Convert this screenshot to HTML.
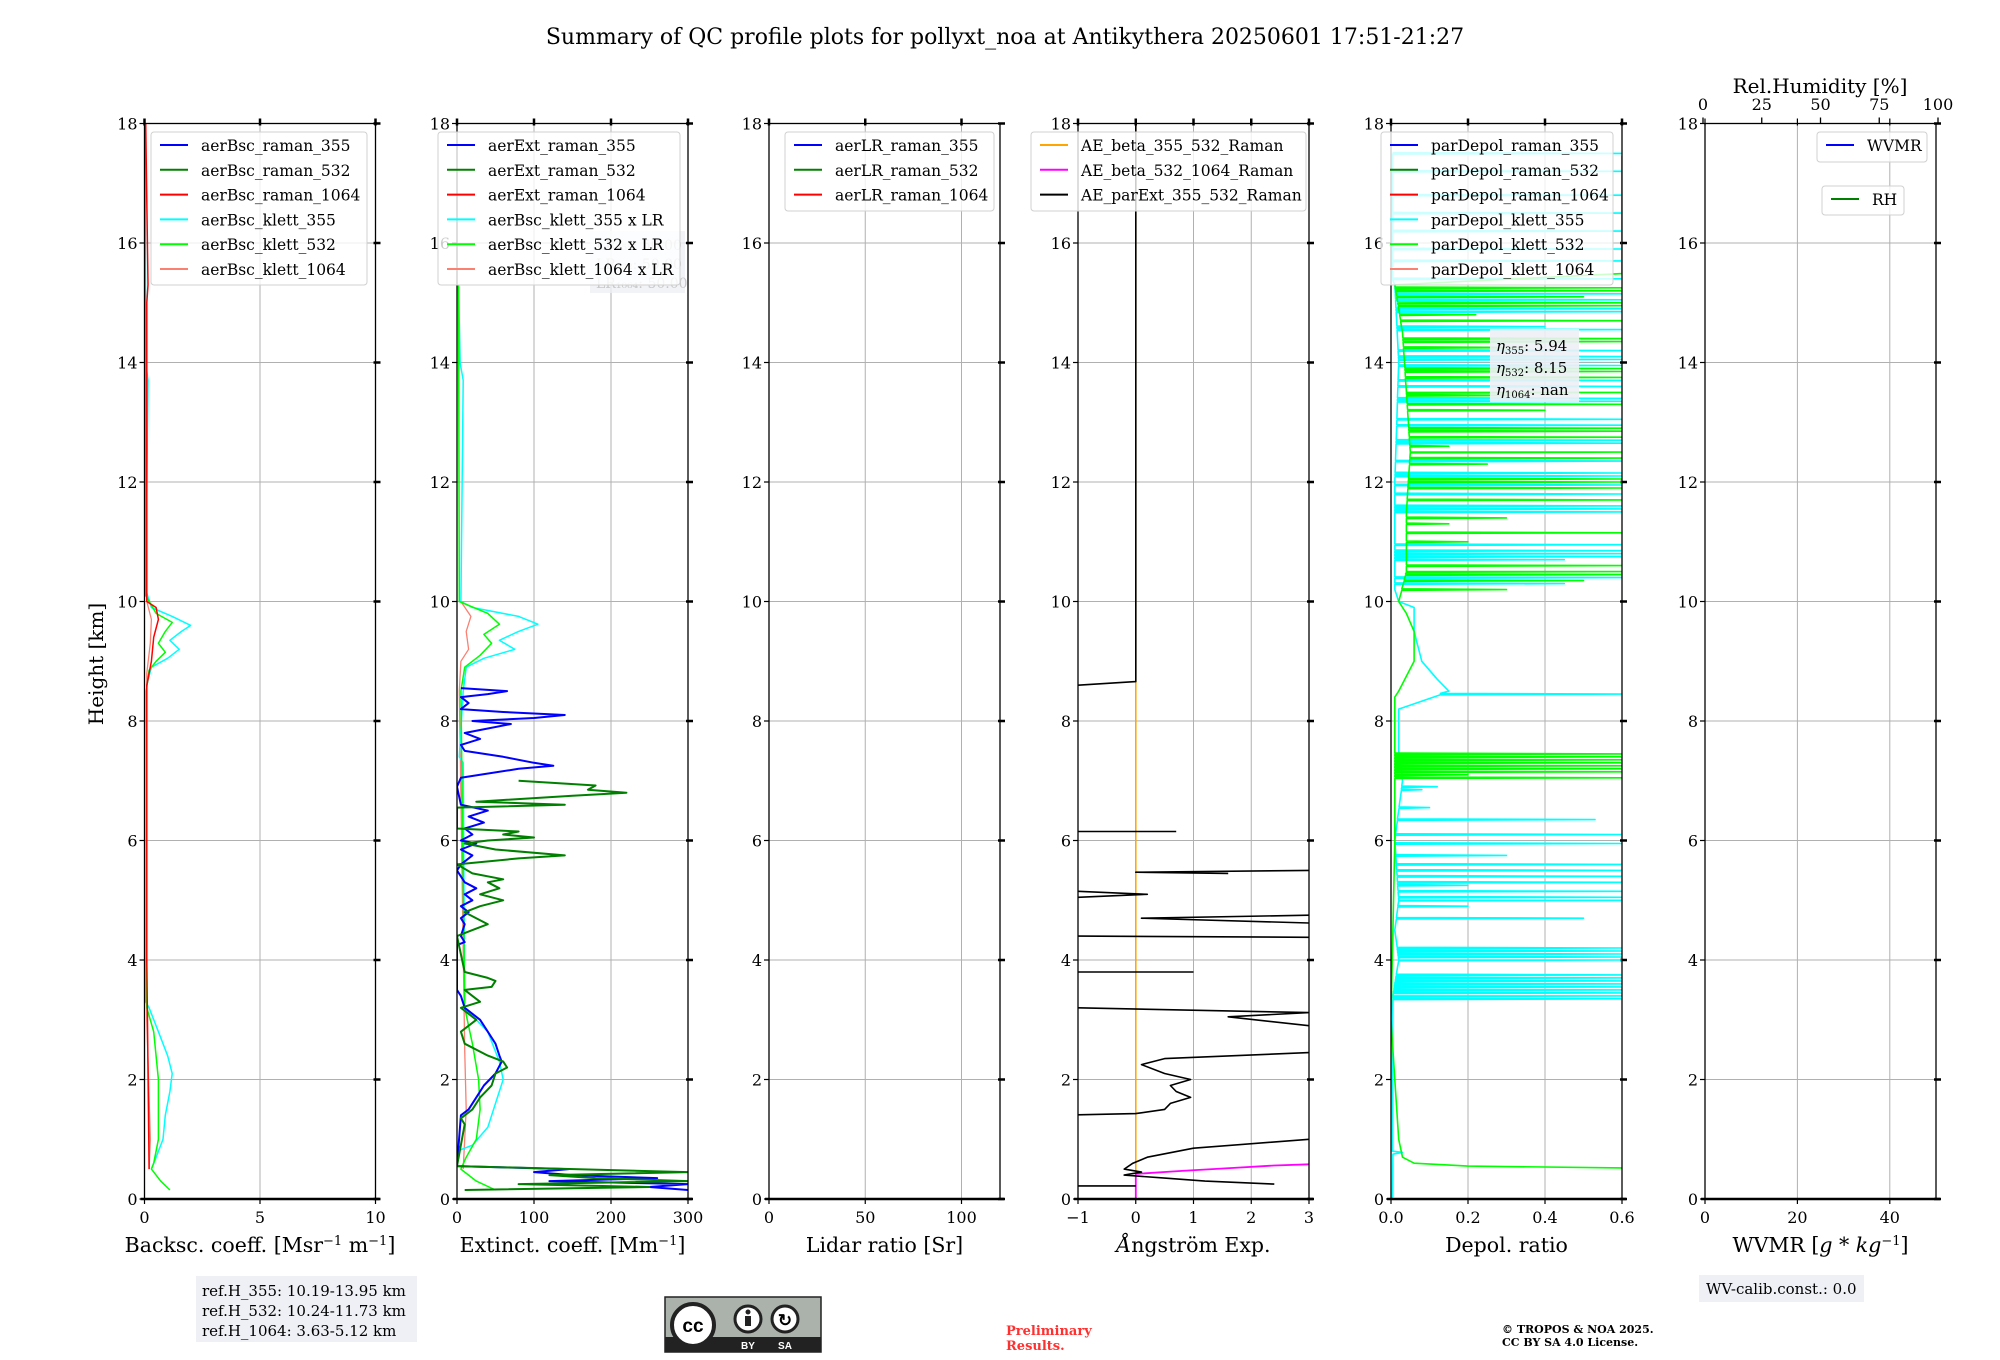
<!DOCTYPE html>
<html><head><meta charset="utf-8">
<style>
html,body{margin:0;padding:0;background:#fff;}
svg{display:block;font-family:"DejaVu Serif","Liberation Serif",serif;}
</style></head>
<body>
<svg id="fig" width="2000" height="1360" viewBox="0 0 2000 1360" xmlns="http://www.w3.org/2000/svg">
<text x="1005" y="44" font-size="22" text-anchor="middle">Summary of QC profile plots for pollyxt_noa at Antikythera 20250601 17:51-21:27</text>
<text transform="translate(103,664) rotate(-90)" font-size="20" text-anchor="middle">Height [km]</text>
<g id="plots"></g>
<rect x="196" y="1276" width="221" height="66" fill="#eef0f5"/>
<text x="202" y="1296" font-size="15">ref.H_355: 10.19-13.95 km</text>
<text x="202" y="1316" font-size="15">ref.H_532: 10.24-11.73 km</text>
<text x="202" y="1336" font-size="15">ref.H_1064: 3.63-5.12 km</text>
<g>
<rect x="665" y="1297" width="156" height="55" fill="#aab2ab" stroke="#222" stroke-width="1.5"/>
<rect x="665" y="1337" width="156" height="15" fill="#222"/>
<circle cx="693" cy="1325" r="21" fill="#fff" stroke="#222" stroke-width="4"/>
<text x="693" y="1332" font-size="19" font-weight="bold" text-anchor="middle" font-family="Liberation Sans,sans-serif">cc</text>
<circle cx="748" cy="1319" r="13" fill="#fff" stroke="#222" stroke-width="3"/>
<circle cx="748" cy="1312" r="2.5" fill="#222"/><rect x="745" y="1316" width="6" height="10" fill="#222"/>
<circle cx="785" cy="1319" r="13" fill="#fff" stroke="#222" stroke-width="3"/>
<text x="785" y="1326" font-size="17" font-weight="bold" text-anchor="middle" font-family="Liberation Sans,sans-serif">↻</text>
<text x="748" y="1349" font-size="10" fill="#fff" text-anchor="middle" font-family="Liberation Sans,sans-serif" font-weight="bold">BY</text>
<text x="785" y="1349" font-size="10" fill="#fff" text-anchor="middle" font-family="Liberation Sans,sans-serif" font-weight="bold">SA</text>
</g>
<text x="1006" y="1335" font-size="13" font-weight="bold" fill="#ff3030">Preliminary</text>
<text x="1006" y="1350" font-size="13" font-weight="bold" fill="#ff3030">Results.</text>
<text x="1502" y="1333" font-size="11" font-weight="bold">© TROPOS &amp; NOA 2025.</text>
<text x="1502" y="1346" font-size="11" font-weight="bold">CC BY SA 4.0 License.</text>
<rect x="1699" y="1275" width="165" height="27" fill="#eef0f5"/>
<text x="1706" y="1294" font-size="15">WV-calib.const.: 0.0</text>
<text x="1820" y="93" font-size="20" text-anchor="middle">Rel.Humidity [%]</text>
</svg>
<script>
// ---------- data ----------
const yTicks = [0,2,4,6,8,10,12,14,16,18];
// Panel 1: backscatter
const bscKlett355H = [18,14,13.7,10.2,9.9,9.75,9.6,9.5,9.35,9.2,9.05,8.9,8.6,3.3,3.2,2.8,2.4,2.1,1.8,1.4,1.0,0.7,0.5];
const bscKlett355V = [0.02,0.05,0.15,0.05,0.3,1.2,2.0,1.6,1.1,1.5,1.0,0.3,0.1,0.05,0.2,0.6,1.0,1.2,1.1,0.9,0.8,0.5,0.3];
const bscKlett532H = [18,10.1,9.8,9.65,9.5,9.3,9.15,9.0,8.85,8.5,3.2,2.8,2.0,1.0,0.6,0.5,0.3,0.15];
const bscKlett532V = [0.02,0.05,0.5,1.2,0.9,0.6,0.9,0.5,0.2,0.08,0.1,0.4,0.6,0.6,0.4,0.3,0.7,1.1];
const bscRaman1064H = [18,15.3,15.0,10.0,9.9,9.7,9.4,9.0,8.6,4.0,0.5];
const bscRaman1064V = [0.05,0.15,0.1,0.1,0.5,0.6,0.4,0.3,0.1,0.1,0.2];
const bscKlett1064H = [10.0,9.7,9.3,8.8,3.0,1.0,0.5];
const bscKlett1064V = [0.1,0.3,0.25,0.1,0.1,0.25,0.2];
// Panel 2: extinction
const extKlett355H = [15.3,14,13.7,10.0,9.9,9.75,9.62,9.5,9.35,9.2,9.05,8.9,8.5,7.4,7.3,3.2,2.8,2.3,2.0,1.6,1.2,0.9,0.8];
const extKlett355V = [2,4,8,5,20,80,105,80,55,75,35,12,8,3,8,10,40,55,60,50,40,20,0];
const extKlett532H = [15.3,10.0,9.8,9.62,9.45,9.3,9.1,8.9,8.5,3.2,2.6,2.0,1.5,1.0,0.7,0.5,0.3,0.15];
const extKlett532V = [2,3,40,55,35,45,30,10,5,10,20,28,30,25,12,5,25,50];
const extKlett1064H = [10.0,9.75,9.5,9.2,9.0,8.5,2.5,1.5,0.5];
const extKlett1064V = [5,18,12,15,5,3,10,12,8];
const extRaman355H = [8.55,8.5,8.45,8.4,8.3,8.2,8.15,8.1,8.05,8.0,7.95,7.85,7.8,7.7,7.6,7.5,7.4,7.3,7.25,7.2,7.1,7.05,6.9,6.6,6.5,6.4,6.3,6.2,6.1,6.0,5.95,5.85,5.75,5.6,5.5,5.3,5.2,5.1,5.0,4.9,4.8,4.7,4.6,4.4,4.3,4.25,3.5,3.4,3.2,3.0,2.8,2.6,2.4,2.3,2.1,1.9,1.7,1.5,1.4,0.55,0.5,0.45,0.4,0.35,0.3,0.25,0.2,0.15];
const extRaman355V = [5,65,40,5,15,5,60,140,100,20,70,30,10,30,5,10,60,100,125,80,30,5,0,5,40,15,35,10,20,5,25,5,20,5,0,10,25,10,20,5,15,5,10,5,10,0,0,5,10,30,40,50,55,58,50,35,25,15,5,0,145,100,150,260,120,300,250,300];
const extRaman532H = [7.0,6.92,6.85,6.8,6.75,6.65,6.6,6.55,6.2,6.15,6.1,6.05,6.0,5.95,5.85,5.75,5.7,5.6,5.45,5.35,5.3,5.2,5.1,5.0,4.9,4.8,4.6,4.5,4.4,3.8,3.7,3.65,3.55,3.5,3.4,3.3,3.2,3.0,2.8,2.6,2.4,2.3,2.2,2.1,1.9,1.7,1.5,1.35,1.25,0.55,0.45,0.4,0.35,0.3,0.25,0.2,0.15];
const extRaman532V = [80,180,170,220,150,25,140,0,0,80,60,100,40,10,50,140,80,0,20,60,40,55,30,60,30,10,40,20,0,10,40,50,45,10,20,30,5,25,5,10,40,60,65,50,45,30,20,5,10,0,300,120,180,300,80,250,10];
// Panel 4: Angstrom (null = gap)
const aeParExtH = [18,8.66,8.6,null,6.15,6.15,null,5.5,5.47,5.45,null,5.15,5.1,5.05,null,4.75,4.7,4.62,null,4.4,4.38,null,3.8,3.8,null,3.2,3.12,3.05,2.9,null,2.45,2.35,2.25,2.1,2.0,1.9,1.8,1.7,1.6,1.5,1.43,1.41,null,1.0,0.85,0.7,0.6,0.5,0.45,0.4,0.35,0.3,0.25,null,0.22,0.22];
const aeParExtV = [0,0,-1,null,-1,0.7,null,3,0,1.6,null,-1,0.2,-1,null,3,0.1,3,null,-1,3,null,-1,1,null,-1,3,1.6,3,null,3,0.5,0.1,0.5,0.95,0.6,0.7,0.95,0.6,0.5,0,-1,null,3,1.0,0.2,-0.05,-0.2,0.1,-0.2,0.5,1.2,2.4,null,-1,0];
const aeBeta355H = [18,0.42];
const aeBeta355V = [0,0];
const aeBeta532H = [0,0.42,0.47,0.52,0.56,0.58];
const aeBeta532V = [0,0,0.8,1.7,2.4,3];
// Panel 5: depol base profiles and spikes
const dpKlett532H = [15.3,14.5,13.5,12.5,11.5,10.5,10.0,9.8,9.5,9.0,8.5,8.4,8.0,7.0,6.5,6.0,3.0,2.0,1.0,0.7,0.6,0.55,0.52];
const dpKlett532V = [0.01,0.03,0.04,0.05,0.04,0.04,0.02,0.04,0.06,0.06,0.02,0.01,0.01,0.01,0.01,0.01,0.0,0.01,0.02,0.03,0.06,0.2,0.6];
const dpKlett532SpikeH = [17.45,17.0,16.9,16.6,16.4,16.0,15.8,15.5,15.25,15.2,15.1,15.0,14.95,14.8,14.7,14.4,14.35,14.25,13.9,13.85,13.75,13.5,13.45,13.3,13.2,12.9,12.85,12.75,12.6,12.5,12.4,12.3,12.05,12.0,11.9,11.7,11.4,11.3,11.15,11.0,10.6,10.5,10.45,10.35,10.2,7.45,7.4,7.35,7.3,7.25,7.2,7.15,7.1,7.05];
const dpKlett532SpikeV = [0.6,0.6,0.6,0.6,0.6,0.6,0.6,0.6,0.6,0.6,0.5,0.6,0.6,0.22,0.6,0.6,0.6,0.35,0.6,0.6,0.6,0.6,0.35,0.6,0.4,0.6,0.6,0.6,0.15,0.6,0.6,0.25,0.6,0.6,0.6,0.6,0.3,0.15,0.6,0.2,0.6,0.6,0.6,0.5,0.3,0.6,0.6,0.6,0.6,0.6,0.6,0.6,0.2,0.6];
const dpKlett355H = [15.3,14.0,12.0,10.2,10.0,9.9,9.5,9.0,8.7,8.5,8.2,7.5,7.0,6.5,6.0,5.0,4.5,4.0,3.4,3.0,2.0,0.8,0.78,0.75,0.0];
const dpKlett355V = [0.01,0.02,0.01,0.01,0.02,0.06,0.06,0.08,0.12,0.15,0.02,0.02,0.03,0.02,0.01,0.02,0.01,0.02,0.005,0.004,0.004,0.004,0.03,0.005,0.004];
const dpKlett355SpikeH = [17.5,17.2,16.8,16.5,16.2,15.9,15.7,15.4,15.15,15.05,14.9,14.85,14.6,14.55,14.2,14.1,14.05,13.95,13.7,13.6,13.4,13.35,13.05,12.95,12.7,12.65,12.35,12.15,12.1,11.95,11.8,11.6,11.55,11.5,10.95,10.85,10.8,10.75,10.7,10.4,10.3,8.45,7.1,6.9,6.85,6.55,6.35,6.1,5.95,5.75,5.6,5.5,5.4,5.3,5.25,5.15,5.05,5.0,4.9,4.7,4.2,4.15,4.1,4.05,4.0,3.75,3.7,3.65,3.6,3.55,3.5,3.45,3.4,3.35];
const dpKlett355SpikeV = [0.6,0.6,0.6,0.6,0.6,0.6,0.6,0.6,0.6,0.6,0.6,0.6,0.4,0.6,0.6,0.6,0.6,0.6,0.6,0.6,0.6,0.6,0.6,0.6,0.6,0.6,0.6,0.6,0.6,0.6,0.6,0.6,0.6,0.6,0.6,0.6,0.6,0.6,0.45,0.6,0.45,0.6,0.12,0.12,0.08,0.1,0.53,0.6,0.6,0.3,0.6,0.6,0.6,0.6,0.2,0.6,0.6,0.6,0.2,0.5,0.6,0.6,0.6,0.6,0.6,0.6,0.6,0.6,0.6,0.6,0.6,0.6,0.6,0.6];

// ---------- layout ----------
const NS = "http://www.w3.org/2000/svg";
const root = document.getElementById('plots');
const TOP = 123.5, BOT = 1199, PW = 231;
const lefts = [144.5, 457, 769, 1078, 1391, 1705];
function yS(h){ return BOT - (h/18)*(BOT-TOP); }
function mk(tag, attrs, parent){ const e=document.createElementNS(NS,tag); for(const k in attrs) e.setAttribute(k,attrs[k]); (parent||root).appendChild(e); return e; }
function xScaleFn(i, d0, d1){ return v => lefts[i] + (v-d0)/(d1-d0)*PW; }

const panels = [
 {d:[0,10], ticks:[0,5,10], labels:['0','5','10'], title:'Backsc. coeff. [Msr<tspan dy="-7" font-size="13">−1</tspan><tspan dy="7"> m</tspan><tspan dy="-7" font-size="13">−1</tspan><tspan dy="7">]</tspan>', name:'backscatter'},
 {d:[0,300], ticks:[0,100,200,300], labels:['0','100','200','300'], title:'Extinct. coeff. [Mm<tspan dy="-7" font-size="13">−1</tspan><tspan dy="7">]</tspan>', name:'extinction'},
 {d:[0,120], ticks:[0,50,100], labels:['0','50','100'], title:'Lidar ratio [Sr]', name:'lidar-ratio'},
 {d:[-1,3], ticks:[-1,0,1,2,3], labels:['−1','0','1','2','3'], title:'<tspan font-style="italic">Å</tspan>ngström Exp.', name:'angstrom'},
 {d:[0,0.6], ticks:[0,0.2,0.4,0.6], labels:['0.0','0.2','0.4','0.6'], title:'Depol. ratio', name:'depol'},
 {d:[0,50], ticks:[0,20,40], labels:['0','20','40'], title:'WVMR [<tspan font-style="italic">g</tspan> * <tspan font-style="italic">kg</tspan><tspan dy="-7" font-size="13">−1</tspan><tspan dy="7">]</tspan>', name:'wvmr'}
];
const xs = panels.map((p,i)=>xScaleFn(i,p.d[0],p.d[1]));

function line(i, H, V, color, w, name, op){
  const x = xs[i]; let d=''; let pen=false;
  for(let k=0;k<H.length;k++){
    if(H[k]===null||V[k]===null){pen=false;continue;}
    d += (pen?'L':'M') + x(V[k]).toFixed(1)+','+yS(H[k]).toFixed(1)+' '; pen=true;
  }
  const e = mk('path',{d:d,fill:'none',stroke:color,'stroke-width':w||1.5,'stroke-linejoin':'round','clip-path':'url(#clip'+i+')'});
  if(op) e.setAttribute('opacity',op);
  
  
  return e;
}
function withSpikes(H,V,SH,SV){
  const pts=[];
  for(let k=0;k<H.length;k++) pts.push([H[k],V[k]]);
  function baseAt(h){ for(let k=0;k<H.length-1;k++){ if(h<=H[k]&&h>=H[k+1]){const t=(H[k]-h)/(H[k]-H[k+1]); return V[k]+(V[k+1]-V[k])*t;} } return V[V.length-1]; }
  for(let k=0;k<SH.length;k++){ const b=baseAt(SH[k]); pts.push([SH[k]+0.012,b]); pts.push([SH[k],SV[k]]); pts.push([SH[k]-0.012,b]); }
  pts.sort((a,b)=>b[0]-a[0]);
  return [pts.map(p=>p[0]), pts.map(p=>p[1])];
}

const defs = mk('defs',{});
panels.forEach((p,i)=>{
  const cp = mk('clipPath',{id:'clip'+i},defs);
  mk('rect',{x:lefts[i],y:TOP,width:PW,height:BOT-TOP},cp);
});

panels.forEach((p,i)=>{
  const g = mk('g',{});
  
  
  const L=lefts[i], R=L+PW;
  yTicks.forEach(t=>{ if(t>0&&t<18){ const gl=mk('line',{x1:L,x2:R,y1:yS(t),y2:yS(t),stroke:'#b0b0b0','stroke-width':1},g);   }});
  p.ticks.forEach(t=>{ const xv=xs[i](t); if(xv>L+1&&xv<R-1){ const gl=mk('line',{x1:xv,x2:xv,y1:TOP,y2:BOT,stroke:'#b0b0b0','stroke-width':1},g);   }});
  yTicks.forEach(t=>{
    const y=yS(t);
    mk('line',{x1:L-5,x2:L,y1:y,y2:y,stroke:'#000','stroke-width':1.2},g);
    mk('line',{x1:R-2,x2:R+5,y1:y,y2:y,stroke:'#000','stroke-width':2.5},g);
    const tl=mk('text',{x:L-7,y:y+6,'font-size':16,'text-anchor':'end'},g); tl.textContent=String(t);
     
  });
  p.ticks.forEach((t,k)=>{
    const x=xs[i](t);
    mk('line',{x1:x,x2:x,y1:BOT,y2:BOT+5,stroke:'#000','stroke-width':1.2},g);
    mk('line',{x1:x,x2:x,y1:TOP-5,y2:TOP+2,stroke:'#000','stroke-width':i===5?1.2:2.5},g);
    const tl=mk('text',{x:x,y:BOT+24,'font-size':16,'text-anchor':'middle'},g); tl.textContent=p.labels[k];
     
  });
  const xt=mk('text',{x:L+PW/2,y:BOT+53,'font-size':20.5,'text-anchor':'middle'},g); xt.innerHTML=p.title;
   
});

line(0,bscKlett1064H,bscKlett1064V,'#fa8072',1.3,'bsc-klett-1064');
line(0,bscKlett355H,bscKlett355V,'#00ffff',1.5,'bsc-klett-355');
line(0,bscKlett532H,bscKlett532V,'#00ff00',1.5,'bsc-klett-532');
line(0,bscRaman1064H,bscRaman1064V,'#ff0000',1.5,'bsc-raman-1064');

line(1,extKlett1064H,extKlett1064V,'#fa8072',1.3,'ext-klett-1064');
line(1,extKlett355H,extKlett355V,'#00ffff',1.5,'ext-klett-355');
line(1,extKlett532H,extKlett532V,'#00ff00',1.5,'ext-klett-532');
line(1,extRaman355H,extRaman355V,'#0000ff',2,'ext-raman-355');
line(1,extRaman532H,extRaman532V,'#008000',2,'ext-raman-532');

line(3,aeBeta355H,aeBeta355V,'#ffa500',1.5,'ae-beta-355-532');
line(3,aeBeta532H,aeBeta532V,'#ff00ff',1.8,'ae-beta-532-1064');
line(3,aeParExtH,aeParExtV,'#000000',1.6,'ae-parext-355-532');

const c355 = withSpikes(dpKlett355H,dpKlett355V,dpKlett355SpikeH,dpKlett355SpikeV);
const c532 = withSpikes(dpKlett532H,dpKlett532V,dpKlett532SpikeH,dpKlett532SpikeV);
line(4,c355[0],c355[1],'#00ffff',1.6,'depol-klett-355');
line(4,c532[0],c532[1],'#00ff00',1.6,'depol-klett-532');

panels.forEach((p,i)=>{
  const f=mk('rect',{x:lefts[i],y:TOP,width:PW,height:BOT-TOP,fill:'none',stroke:'#000','stroke-width':1.3});
  
  
  const b=mk('line',{x1:lefts[i]-4,x2:lefts[i]+PW+4,y1:BOT,y2:BOT,stroke:'#000','stroke-width':2.6});
  
  
});

const rhTicks=[0,25,50,75,100];
rhTicks.forEach(t=>{
  const x=1703+t/100*235;
  mk('line',{x1:x,x2:x,y1:TOP-6,y2:TOP,stroke:'#000','stroke-width':1.3});
  const tl=mk('text',{x:x,y:110,'font-size':16,'text-anchor':'middle'}); tl.textContent=String(t);
   
});

const lrb=mk('rect',{x:590,y:231,width:95,height:62,fill:'#eef0f5',opacity:0.8});
 
['LR₃₅₅: 50.00','LR₅₃₂: 50.00','LR₁₀₆₄: 50.00'].forEach((s,k)=>{ const t=mk('text',{x:596,y:250+k*19,'font-size':14,fill:'#c8c8c8'}); t.textContent=s;   });

function legend(x,y,w,h,items,name){
  const g=mk('g',{});
  
  
  mk('rect',{x:x,y:y,width:w,height:h,rx:3,fill:'#fff','fill-opacity':0.8,stroke:'#d0d0d0','stroke-width':1},g);
  items.forEach((it,k)=>{
    const cy=y+13+k*24.8;
    mk('line',{x1:x+9,x2:x+37,y1:cy,y2:cy,stroke:it[1],'stroke-width':2},g);
    const t=mk('text',{x:x+50,y:cy+6,'font-size':15.5},g); t.textContent=it[0];
     
  });
}
legend(151,132,216,153,[['aerBsc_raman_355','#0000ff'],['aerBsc_raman_532','#008000'],['aerBsc_raman_1064','#ff0000'],['aerBsc_klett_355','#00ffff'],['aerBsc_klett_532','#00ff00'],['aerBsc_klett_1064','#fa8072']],'backscatter-legend');
legend(438,132,242,153,[['aerExt_raman_355','#0000ff'],['aerExt_raman_532','#008000'],['aerExt_raman_1064','#ff0000'],['aerBsc_klett_355 x LR','#00ffff'],['aerBsc_klett_532 x LR','#00ff00'],['aerBsc_klett_1064 x LR','#fa8072']],'extinction-legend');
legend(785,132,209,79,[['aerLR_raman_355','#0000ff'],['aerLR_raman_532','#008000'],['aerLR_raman_1064','#ff0000']],'lidar-ratio-legend');
legend(1031,132,275,79,[['AE_beta_355_532_Raman','#ffa500'],['AE_beta_532_1064_Raman','#ff00ff'],['AE_parExt_355_532_Raman','#000000']],'angstrom-legend');
legend(1381,132,232,153,[['parDepol_raman_355','#0000ff'],['parDepol_raman_532','#008000'],['parDepol_raman_1064','#ff0000'],['parDepol_klett_355','#00ffff'],['parDepol_klett_532','#00ff00'],['parDepol_klett_1064','#fa8072']],'depol-legend');
legend(1817,132,110,30,[['WVMR','#0000ff']],'wvmr-legend');
legend(1822,186,82,29,[['RH','#008000']],'rh-legend');

const eb=mk('rect',{x:1490,y:329,width:89,height:73,fill:'#eef0f5','fill-opacity':0.9});
 
[['355','5.94'],['532','8.15'],['1064','nan']].forEach((s,k)=>{
  const t=mk('text',{x:1496,y:351+k*22,'font-size':15});
  t.innerHTML='<tspan font-style="italic">η</tspan><tspan font-size="10" dy="3">'+s[0]+'</tspan><tspan dy="-3">: '+s[1]+'</tspan>';
   
});
</script>
</body></html>
